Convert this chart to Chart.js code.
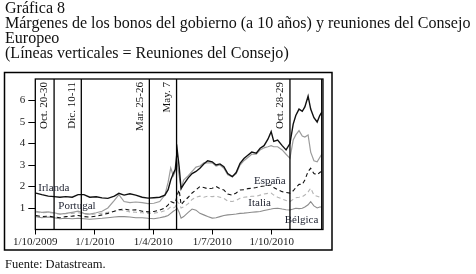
<!DOCTYPE html>
<html>
<head>
<meta charset="utf-8">
<script src="https://cdn.jsdelivr.net/npm/chart.js@4/dist/chart.umd.min.js"></script>
<style>
  html, body { margin: 0; padding: 0; background: #fff; }
  body { width: 476px; height: 274px; position: relative; overflow: hidden; font-family: 'Liberation Serif', serif; color: #111; }
  #title { position: absolute; left: 5px; top: 0px; line-height: 15px; white-space: nowrap; }
  #title div { white-space: nowrap; }
  #source { position: absolute; left: 5px; top: 257px; font-size: 12.5px; line-height: 15px; white-space: nowrap; }
  canvas { position: absolute; left: 0; top: 0; }
</style>
</head>
<body>
<canvas id="c" width="476" height="274"></canvas>
<div id="title">
  <div>Gráfica 8</div>
  <div id="t2">Márgenes de los bonos del gobierno (a 10 años) y reuniones del Consejo</div>
  <div>Europeo</div>
  <div>(Líneas verticales = Reuniones del Consejo)</div>
</div>
<div id="source">Fuente: Datastream.</div>
<script>
// Days elapsed since 1/10/2009
const dates = [1,10,20,29,38,47,57,66,75,84,94,103,112,122,129,137,146,155,165,174,183,192,200,205,209,213,216,219,222,225,229,236,242,248,254,260,266,273,279,285,291,297,304,310,316,322,328,334,341,347,353,359,364,368,374,381,387,393,398,402,407,412,416,421,425,430,435,439,442];

const irlanda  = [1.69,1.62,1.55,1.53,1.50,1.53,1.50,1.62,1.62,1.50,1.52,1.47,1.45,1.55,1.68,1.60,1.66,1.60,1.50,1.46,1.48,1.50,1.60,1.85,2.30,2.60,2.80,3.70,2.92,1.90,2.10,2.40,2.60,2.70,2.85,3.05,3.20,3.15,3.00,3.05,2.92,2.60,2.46,2.65,3.08,3.30,3.45,3.60,3.55,3.78,3.90,4.20,4.55,4.10,4.16,3.90,3.70,4.00,4.90,5.30,5.60,5.50,5.70,6.20,5.60,5.20,5.00,5.30,5.45];
const portugal = [0.85,0.80,0.82,0.78,0.72,0.75,0.80,0.85,0.75,0.72,0.78,0.85,1.00,1.35,1.62,1.30,1.25,1.28,1.25,1.20,1.22,1.30,1.60,2.20,2.86,2.50,2.70,3.10,2.50,1.90,2.30,2.50,2.70,2.90,2.95,3.10,3.10,3.10,2.95,3.00,2.85,2.55,2.45,2.60,3.00,3.20,3.35,3.50,3.50,3.70,3.80,3.85,3.90,3.85,3.85,3.70,3.50,3.31,4.16,4.40,4.60,4.35,4.30,4.40,3.60,3.20,3.15,3.35,3.50];
const espana   = [0.65,0.60,0.62,0.58,0.55,0.60,0.62,0.65,0.60,0.58,0.62,0.68,0.75,0.85,0.92,0.95,0.90,0.92,0.85,0.82,0.84,0.90,1.00,1.15,1.30,1.25,1.22,1.60,1.84,1.15,1.30,1.50,1.70,1.84,2.00,1.95,1.90,1.92,2.00,1.90,1.84,1.65,1.60,1.70,1.84,1.85,1.90,1.92,1.95,2.00,2.02,2.05,2.07,1.95,1.85,1.76,1.72,1.69,1.80,1.95,2.10,2.10,2.30,2.70,2.85,2.60,2.55,2.65,2.70];
const italia   = [0.80,0.78,0.80,0.75,0.72,0.74,0.75,0.78,0.72,0.70,0.72,0.76,0.80,0.85,0.90,0.88,0.82,0.80,0.78,0.75,0.76,0.80,0.88,0.95,1.05,1.00,1.05,1.30,1.20,1.00,1.05,1.20,1.40,1.50,1.55,1.50,1.55,1.53,1.55,1.50,1.45,1.32,1.30,1.35,1.45,1.50,1.52,1.55,1.55,1.60,1.65,1.68,1.69,1.60,1.50,1.42,1.35,1.30,1.40,1.48,1.50,1.53,1.60,1.75,1.92,1.60,1.55,1.50,1.50];
const belgica  = [0.60,0.55,0.58,0.55,0.50,0.52,0.50,0.52,0.50,0.48,0.50,0.52,0.55,0.58,0.60,0.60,0.58,0.55,0.55,0.52,0.50,0.55,0.60,0.65,0.75,0.85,0.90,0.99,0.80,0.53,0.60,0.80,0.95,0.90,0.75,0.68,0.60,0.53,0.55,0.60,0.65,0.68,0.70,0.72,0.75,0.76,0.78,0.80,0.82,0.84,0.88,0.92,0.95,0.98,0.99,0.95,0.92,0.91,0.95,0.99,0.97,0.99,1.05,1.15,1.30,1.10,1.00,1.05,1.05];

const seriesNames = ['Irlanda','Portugal','España','Italia','Bélgica'];

// x axis ticks (days since 1/10/2009) and their labels
const xTickDays   = [0, 92, 182, 273, 365];
const xTickLabels = ['1/10/2009','1/1/2010','1/4/2010','1/7/2010','1/10/2010'];
const yTickValues = [1,2,3,4,5,6];

// European Council meetings (day of vertical line) and labels
const councilDays   = [29, 71, 176, 218, 393, 442];
const councilLabels = ['Oct. 20-30','Dic. 10-11','Mar. 25-26','May. 7','Oct. 28-29',''];

// series label anchors (day, value)
const labelDays   = [4.6, 35.5, 337.5, 328.7, 385];
const labelValues = [1.93, 1.10, 2.27, 1.22, 0.45];

const FONT = "'Liberation Serif', 'Times New Roman', serif";
Chart.defaults.font.family = FONT;
Chart.defaults.color = '#222';

// fit title line 2 to width
(function(){
  const t = document.getElementById('title');
  t.style.fontSize = '15px';
  const w = document.getElementById('t2').getBoundingClientRect().width;
  const fs = 15 * 466 / w;
  t.style.fontSize = fs.toFixed(2) + 'px';
})();

function pts(arr){ return dates.map((d,i)=>({x:d, y:arr[i]})); }

const styles = [
  {borderColor:'#111', borderWidth:1.4, borderDash:[]},
  {borderColor:'#9c9c9c', borderWidth:1.2, borderDash:[]},
  {borderColor:'#111', borderWidth:1.1, borderDash:[4,3]},
  {borderColor:'#b4b4b4', borderWidth:1.1, borderDash:[4,3]},
  {borderColor:'#8c8c8c', borderWidth:1.1, borderDash:[]}
];
const allSeries = [irlanda, portugal, espana, italia, belgica];

const decor = {
  id: 'decor',
  beforeDraw(chart){
    const ctx = chart.ctx;
    ctx.save();
    ctx.strokeStyle = '#000';
    ctx.lineWidth = 1.5;
    ctx.strokeRect(4.5, 72.5, 327.5, 177.5);
    ctx.restore();
  },
  afterDatasetsDraw(chart){
    const ctx = chart.ctx, ca = chart.chartArea;
    const xs = chart.scales.x, ys = chart.scales.y;
    ctx.save();
    // plot box
    ctx.strokeStyle = '#000';
    ctx.lineWidth = 1.3;
    ctx.strokeRect(ca.left, ca.top, ca.right - ca.left, ca.bottom - ca.top);
    // council lines
    councilDays.forEach((d,i)=>{
      const x = xs.getPixelForValue(d);
      ctx.beginPath();
      ctx.moveTo(x, ca.top);
      ctx.lineTo(x, ca.bottom);
      ctx.lineWidth = 1.3;
      ctx.stroke();
      if (councilLabels[i]) {
        ctx.save();
        ctx.translate(x - 4, ca.top + 3);
        ctx.rotate(-Math.PI/2);
        ctx.font = '11px ' + FONT;
        ctx.fillStyle = '#111';
        ctx.textAlign = 'right';
        ctx.textBaseline = 'bottom';
        ctx.fillText(councilLabels[i], 0, 0);
        ctx.restore();
      }
    });
    // series labels
    ctx.font = '11px ' + FONT;
    ctx.fillStyle = '#1e2230';
    ctx.textAlign = 'left';
    ctx.textBaseline = 'middle';
    seriesNames.forEach((n,i)=>{
      ctx.fillText(n, xs.getPixelForValue(labelDays[i]), ys.getPixelForValue(labelValues[i]));
    });
    ctx.restore();
  }
};

new Chart(document.getElementById('c'), {
  type: 'line',
  data: {
    datasets: allSeries.map((s,i)=>({
      label: seriesNames[i],
      data: pts(s),
      borderColor: styles[i].borderColor,
      borderWidth: styles[i].borderWidth,
      borderDash: styles[i].borderDash,
      pointRadius: 0,
      tension: 0,
      fill: false
    }))
  },
  options: {
    responsive: false,
    animation: false,
    devicePixelRatio: 1,
    layout: { padding: { left: 0, top: 79, right: 153, bottom: 24.5 } },
    plugins: { legend: { display: false }, title: { display: false }, tooltip: { enabled: false } },
    scales: {
      x: {
        type: 'linear', min: 0, max: 444,
        afterBuildTicks: (axis) => { axis.ticks = xTickDays.map(v => ({value: v})); },
        afterFit: (axis) => { axis.height = 20; },
        grid: { display: true, drawOnChartArea: false, drawTicks: true, tickLength: 5, color: '#000', lineWidth: 1 },
        border: { display: false },
        ticks: {
          autoSkip: false, maxRotation: 0, minRotation: 0, padding: 1,
          font: { size: 11, family: FONT }, color: '#222',
          callback: (v) => { const k = xTickDays.indexOf(v); return k >= 0 ? xTickLabels[k] : ''; }
        }
      },
      y: {
        min: 0, max: 7,
        afterBuildTicks: (axis) => { axis.ticks = yTickValues.map(v => ({value: v})); },
        afterFit: (axis) => { axis.width = 35.3; },
        grid: { display: true, drawOnChartArea: false, drawTicks: true, tickLength: 7, color: '#000', lineWidth: 1 },
        border: { display: false },
        ticks: { padding: 3, font: { size: 11, family: FONT }, color: '#222' }
      }
    }
  },
  plugins: [decor]
});
</script>
</body>
</html>
